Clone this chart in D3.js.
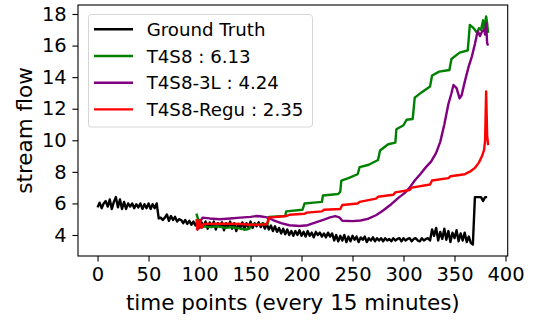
<!DOCTYPE html>
<html>
<head>
<meta charset="utf-8">
<script src="https://cdn.jsdelivr.net/npm/d3@7"></script>
<style>
  body { margin: 0; background: #fff; }
  svg { display: block; font-family: "DejaVu Sans", sans-serif; }
</style>
</head>
<body>
<div id="chart"></div>
<script>
// data
const xTicks = [0, 50, 100, 150, 200, 250, 300, 350, 400];
const yTicks = [4, 6, 8, 10, 12, 14, 16, 18];
const seriesLabels = ['Ground Truth', 'T4S8 : 6.13', 'T4S8-3L : 4.24', 'T4S8-Regu : 2.35'];
const seriesColors = ['#000000', '#008000', '#800080', '#ff0000'];

// ground truth sampled every 2 time points, starting at 0
const groundTruthStep = 2;
const groundTruth = [
  5.75, 6.05, 5.7, 6.0, 6.15, 5.8, 6.25, 5.65, 6.1, 6.4,
  5.75, 6.25, 5.65, 6.1, 5.65, 6.0, 5.8, 6.0, 5.7, 5.95,
  5.75, 6.0, 5.65, 5.95, 5.7, 6.0, 5.65, 5.95, 5.7, 6.0,
  5.05, 5.1, 4.95, 5.1, 5.3, 4.9, 5.2, 4.95, 5.15, 4.85,
  5.0, 4.95, 4.75, 4.95, 4.7, 4.9, 4.65, 4.85, 4.6,
  4.85, 4.45, 4.8, 4.55, 4.85, 4.4, 4.8, 4.5, 4.85, 4.35,
  4.75, 4.55, 4.8, 4.3, 4.75, 4.5, 4.85, 4.4, 4.75, 4.25,
  4.7, 4.45, 4.8, 4.35, 4.75, 4.5, 4.85, 4.45, 4.75, 4.55,
  4.8, 4.5, 4.75, 4.4, 4.7, 4.35, 4.6, 4.25, 4.55, 4.2,
  4.45, 4.1, 4.4, 4.05, 4.35, 4.0, 4.25, 3.95, 4.25, 4.0,
  4.3, 3.95,
  4.2, 3.9, 4.25, 3.95, 4.15, 3.85, 4.2, 4.0, 4.15, 3.9, 4.1, 3.85, 4.15, 3.9, 4.1,
  3.65, 4.0, 3.6, 3.95, 3.65, 4.0, 3.55, 3.9, 3.6, 3.95, 3.7, 3.9, 3.55, 3.85, 3.7, 3.9, 3.55,
  3.8, 3.65, 3.85, 3.6, 3.8, 3.65, 3.8, 3.6, 3.8, 3.65,
  3.75, 3.6, 3.8, 3.65, 3.75, 3.8, 3.6, 3.8, 3.65, 3.75,
  3.8, 3.6, 3.75, 3.8, 3.65, 3.6, 3.8, 3.65, 3.75, 3.8,
  3.65,
  4.35, 3.95, 4.45, 3.65, 4.2, 3.75, 4.4, 3.7, 4.25, 3.55,
  4.15, 3.8, 4.3, 3.6, 4.1, 3.65, 4.15, 3.55, 3.9, 3.5,
  3.4,
  6.4, 6.4, 6.4, 6.4, 6.15, 6.4, 6.4
];

// predictions: [time point, value]
const t4s8 = [
  [97, 5.35], [99, 4.9], [101, 4.6], [103, 4.55], [110, 4.5], [118, 4.55], [125, 4.45],
  [132, 4.5], [140, 4.4], [146, 4.35], [149, 4.4], [150, 4.65], [160, 4.68], [167, 4.72],
  [168, 5.15], [184, 5.2], [185, 5.5], [201, 5.6], [203, 6.0], [212, 6.05], [220, 6.1],
  [221, 6.5], [236, 6.6], [238, 6.75], [239, 7.45], [246, 7.6], [255, 7.85], [257, 8.3],
  [266, 8.45], [275, 8.75], [277, 9.35], [285, 9.75], [292, 9.85], [293, 10.7], [300, 10.95],
  [303, 11.3], [309, 11.35], [311, 12.7], [318, 13.05], [326, 13.4], [328, 14.1], [335, 14.35],
  [345, 14.45], [347, 15.15], [355, 15.55], [363, 15.7], [365, 17.3], [368, 17.15], [370, 17.0],
  [372, 16.8], [374, 17.1], [376, 17.0], [378, 17.6], [379, 17.0], [381, 17.85], [382, 17.4],
  [383, 16.8]
];

const t4s8_3l = [
  [97, 4.3], [99, 4.45], [101, 4.9], [103, 5.1], [110, 5.05], [120, 5.0], [130, 5.05],
  [140, 5.1], [150, 5.15], [156, 5.2], [161, 5.17], [166, 5.12], [172, 4.95], [180, 4.75],
  [188, 4.62], [198, 4.57], [206, 4.62], [214, 4.8], [222, 4.97], [228, 5.12], [233, 5.2],
  [237, 5.12], [240, 4.9], [250, 4.88], [258, 4.92], [265, 5.02], [273, 5.25], [280, 5.55],
  [288, 5.95], [295, 6.35], [301, 6.65], [306, 7.0], [311, 7.45], [317, 7.9], [322, 8.3],
  [327, 8.65], [332, 9.2], [336, 9.9], [340, 11.0], [344, 12.3], [347, 12.98], [349, 13.5],
  [352, 13.3], [355, 12.66], [357, 12.85], [360, 13.7], [364, 14.7], [367, 15.3], [370, 16.1],
  [372, 16.7], [373, 16.9], [375, 16.6], [377, 16.9], [379, 17.0], [380, 16.7], [381, 17.4],
  [382, 16.14], [383, 16.0]
];

const t4s8_regu = [
  [97, 5.0], [98, 4.35], [100, 4.95], [102, 4.45], [104, 4.7], [120, 4.72], [140, 4.7],
  [150, 4.65], [160, 4.66], [166, 4.68], [168, 5.1], [185, 5.2], [188, 5.28], [203, 5.35],
  [205, 5.42], [220, 5.5], [222, 5.6], [238, 5.65], [240, 5.9], [255, 6.0], [257, 6.1],
  [273, 6.3], [275, 6.42], [290, 6.55], [292, 6.7], [306, 6.85], [308, 7.0], [326, 7.2],
  [328, 7.45], [344, 7.6], [346, 7.72], [360, 7.85], [362, 7.92], [366, 8.05], [370, 8.25],
  [374, 8.6], [377, 9.0], [379, 9.4], [380, 10.0], [381, 13.1], [382, 10.3], [383, 9.7]
];

const width = 538;
const height = 320;
const plot = { left: 78, right: 507.7, top: 5, bottom: 256 };

const svg = d3
  .select('#chart')
  .append('svg')
  .attr('width', width)
  .attr('height', height);

const x = d3.scaleLinear().domain([-19.15, 402.15]).range([plot.left, plot.right]);
const y = d3.scaleLinear().domain([2.67, 18.57]).range([plot.bottom, plot.top]);

const series = [
  groundTruth.map((v, i) => [i * groundTruthStep, v]),
  t4s8,
  t4s8_3l,
  t4s8_regu
];

const line = d3.line().x(d => x(d[0])).y(d => y(d[1]));

series.forEach((data, i) => {
  svg
    .append('path')
    .datum(data)
    .attr('fill', 'none')
    .attr('stroke', seriesColors[i])
    .attr('stroke-width', 2.4)
    .attr('stroke-linejoin', 'round')
    .attr('d', line);
});

// frame
svg
  .append('rect')
  .attr('x', plot.left)
  .attr('y', plot.top)
  .attr('width', plot.right - plot.left)
  .attr('height', plot.bottom - plot.top)
  .attr('fill', 'none')
  .attr('stroke', '#000')
  .attr('stroke-width', 1.1);

svg
  .append('g')
  .attr('transform', `translate(0,${plot.bottom})`)
  .call(d3.axisBottom(x).tickValues(xTicks).tickSize(5.6).tickPadding(5.5))
  .call(g => g.select('.domain').remove())
  .call(g => g.selectAll('.tick line').attr('stroke', '#000').attr('stroke-width', 1.1))
  .call(g => g.selectAll('text').attr('fill', '#000').style('font-size', '19.5px').style('font-family', '"DejaVu Sans"'));

svg
  .append('g')
  .attr('transform', `translate(${plot.left},0)`)
  .call(d3.axisLeft(y).tickValues(yTicks).tickSize(5.6).tickPadding(5.7))
  .call(g => g.select('.domain').remove())
  .call(g => g.selectAll('.tick line').attr('stroke', '#000').attr('stroke-width', 1.1))
  .call(g => g.selectAll('text').attr('fill', '#000').style('font-size', '19.5px').style('font-family', '"DejaVu Sans"'));

svg
  .append('text')
  .attr('x', (plot.left + plot.right) / 2)
  .attr('y', 310)
  .attr('text-anchor', 'middle')
  .style('font-size', '21.5px')
  .text('time points (every 15 minutes)');

svg
  .append('text')
  .attr('transform', `translate(31.5,${(plot.top + plot.bottom) / 2}) rotate(-90)`)
  .attr('text-anchor', 'middle')
  .style('font-size', '21.5px')
  .text('stream flow');

// legend
const legend = svg.append('g');
legend
  .append('rect')
  .attr('x', 88.5)
  .attr('y', 14.5)
  .attr('width', 224)
  .attr('height', 112.5)
  .attr('rx', 3)
  .attr('fill', 'rgba(255,255,255,0.8)')
  .attr('stroke', '#d6d6d6')
  .attr('stroke-width', 1);

seriesLabels.forEach((label, i) => {
  const cy = 29.3 + i * 26.7;
  legend
    .append('line')
    .attr('x1', 94)
    .attr('x2', 133)
    .attr('y1', cy)
    .attr('y2', cy)
    .attr('stroke', seriesColors[i])
    .attr('stroke-width', 2.4);
  legend
    .append('text')
    .attr('x', 146.7)
    .attr('y', cy + 6.6)
    .style('font-size', '18.2px')
    .text(label);
});
</script>
</body>
</html>
